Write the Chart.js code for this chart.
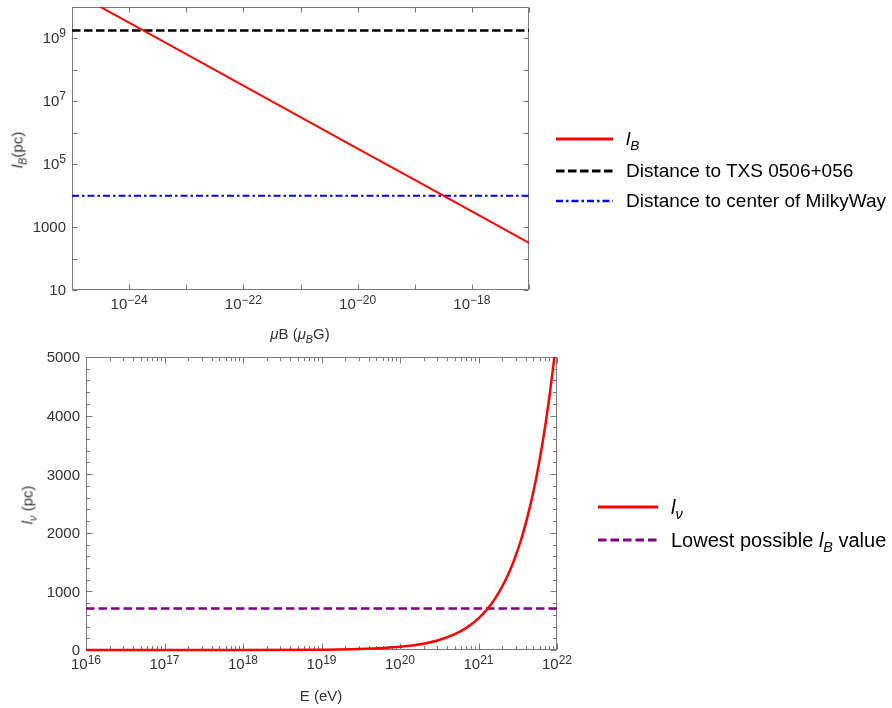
<!DOCTYPE html>
<html><head><meta charset="utf-8">
<script src="https://cdn.jsdelivr.net/npm/chart.js@4"></script>
<style>
html,body{margin:0;padding:0;background:#fff;}
body{width:892px;height:708px;position:relative;overflow:hidden;font-family:"Liberation Sans",Arial,sans-serif;}
canvas{position:absolute;}
.t{position:absolute;white-space:nowrap;color:#333;font-size:15px;line-height:1;}
.c{transform:translate(-50%,-50%);}
.r{transform:translate(-50%,-50%) rotate(-90deg);}
.sb{font-size:72%;position:relative;top:0.35em;}
.lg{position:absolute;white-space:nowrap;color:#000;font-size:19px;line-height:1;display:flex;align-items:center;}
.lg svg{margin-right:13px;}
.lg2{font-size:20px;}
</style></head>
<body>
<canvas id="c1" width="560" height="345" style="left:0;top:0"></canvas>
<canvas id="c2" width="600" height="363" style="left:0;top:345px"></canvas>

<div class="t r" style="left:17px;top:150px;"><i>l</i><span class="sb"><i>B</i></span>(pc)</div>
<div class="t c" style="left:300px;top:333px;"><i>μ</i>B (<i>μ</i><span class="sb"><i>B</i></span>G)</div>
<div class="t r" style="left:27px;top:505px;"><i>l</i><span class="sb"><i>ν</i></span> (pc)</div>
<div class="t c" style="left:321px;top:695px;">E (eV)</div>

<div class="lg" style="left:556px;top:129px;"><svg width="57" height="8"><line x1="0" y1="4" x2="57" y2="4" stroke="#ff0000" stroke-width="3"/></svg><span><i>l</i><span class="sb"><i>B</i></span></span></div>
<div class="lg" style="left:556px;top:161px;"><svg width="57" height="8"><line x1="0" y1="4" x2="57" y2="4" stroke="#000" stroke-width="3" stroke-dasharray="8.5,3.5"/></svg><span>Distance to TXS 0506+056</span></div>
<div class="lg" style="left:556px;top:191px;"><svg width="57" height="8"><line x1="0" y1="4" x2="57" y2="4" stroke="#0000ff" stroke-width="2.5" stroke-dasharray="7,3,2.5,3"/></svg><span>Distance to center of MilkyWay</span></div>

<div class="lg lg2" style="left:598px;top:497px;"><svg width="60" height="8"><line x1="0" y1="4" x2="60" y2="4" stroke="#ff0000" stroke-width="3"/></svg><span><i>l</i><span class="sb"><i>ν</i></span></span></div>
<div class="lg lg2" style="left:598px;top:530px;"><svg width="60" height="8"><line x1="0" y1="4" x2="60" y2="4" stroke="#800080" stroke-width="3" stroke-dasharray="8.5,4"/></svg><span>Lowest possible <i>l</i><span class="sb"><i>B</i></span> value</span></div>

<script>
// ---------- top panel data ----------
const muB = [1e-25, 1e-24, 1e-23, 1e-22, 1e-21, 1e-20, 1e-19, 1e-18, 1e-17];
const lB  = [3.16e10, 3.16e9, 3.16e8, 3.16e7, 3.16e6, 3.16e5, 3.16e4, 3.16e3, 316];
const txsDistance = 1.8e9;
const milkyWayDistance = 1.0e4;
const topXRange = [1e-25, 1e-17];
const topYRange = [10, 1e10];
const topXTicks = [1e-25, 1e-24, 1e-23, 1e-22, 1e-21, 1e-20, 1e-19, 1e-18, 1e-17];
const topXTickLabels = ['', '10^−24', '', '10^−22', '', '10^−20', '', '10^−18', ''];
const topYTicks = [10, 100, 1e3, 1e4, 1e5, 1e6, 1e7, 1e8, 1e9, 1e10];
const topYTickLabels = ['10', '', '1000', '', '10^5', '', '10^7', '', '10^9', ''];

// ---------- bottom panel data ----------
const energy = [1e16, 1e17, 1e18, 1e19, 3e19, 1e20, 2e20, 3e20, 5e20, 7e20, 1e21, 1.3e21, 1.6e21, 2e21, 2.5e21, 3e21, 3.5e21, 4e21, 5e21, 6e21, 7e21, 8e21, 9e21, 1e22];
const lNu    = [0.0054, 0.054, 0.54, 5.4, 16, 54, 108, 162, 270, 378, 540, 702, 864, 1080, 1350, 1620, 1890, 2160, 2700, 3240, 3780, 4320, 4860, 5400];
const lowestLB = 710;
const botXRange = [1e16, 1e22];
const botYRange = [0, 5000];
const botXMajorTicks = [1e16, 1e17, 1e18, 1e19, 1e20, 1e21, 1e22];
const botXTickLabels = ['10^16', '10^17', '10^18', '10^19', '10^20', '10^21', '10^22'];
const botXMinorMult = [2, 3, 4, 5, 6, 7, 8, 9];
const botYMajorTicks = [0, 1000, 2000, 3000, 4000, 5000];
const botYTickLabels = ['0', '1000', '2000', '3000', '4000', '5000'];
const botYMinorStep = 200;

// ---------- helpers ----------
const FAM = '"Liberation Sans", Arial, sans-serif';
const TXT = '#333333';
const FRAME = '#7a7a7a';

function drawLabel(ctx, text, x, y, align) {
  // y = baseline of the main text
  const parts = text.split('^');
  ctx.font = '15px ' + FAM;
  const wb = ctx.measureText(parts[0]).width;
  let we = 0;
  if (parts.length > 1) { ctx.font = '12px ' + FAM; we = ctx.measureText(parts[1]).width; }
  const tot = wb + we;
  let sx = align === 'center' ? x - tot / 2 : x - tot;
  ctx.textAlign = 'left';
  ctx.textBaseline = 'alphabetic';
  ctx.font = '15px ' + FAM;
  ctx.fillText(parts[0], sx, y);
  if (parts.length > 1) {
    ctx.font = '12px ' + FAM;
    ctx.fillText(parts[1], sx + wb, y - 5.5);
  }
}

function framePlugin(cfg) {
  return {
    id: 'frameTicks',
    beforeDatasetsDraw(chart) {
      const ctx = chart.ctx, a = chart.chartArea;
      const xs = chart.scales.x, ys = chart.scales.y;
      ctx.save();
      ctx.strokeStyle = FRAME;
      ctx.lineWidth = 1;
      ctx.beginPath();
      const L = Math.round(a.left) + 0.5, R = Math.round(a.right) - 0.5;
      const T = Math.round(a.top) + 0.5, B = Math.round(a.bottom) - 0.5;
      xs.ticks.forEach(t => {
        const p = Math.round(xs.getPixelForValue(t.value)) + 0.5;
        if (p < L - 1 || p > R + 1) return;
        const len = cfg.isMajX(t.value) ? cfg.maj : cfg.min;
        ctx.moveTo(p, B); ctx.lineTo(p, B - len);
        ctx.moveTo(p, T); ctx.lineTo(p, T + len);
      });
      ys.ticks.forEach(t => {
        const p = Math.round(ys.getPixelForValue(t.value)) + 0.5;
        if (p < T - 1 || p > B + 1) return;
        const len = cfg.isMajY(t.value) ? cfg.maj : cfg.min;
        ctx.moveTo(L, p); ctx.lineTo(L + len, p);
        ctx.moveTo(R, p); ctx.lineTo(R - len, p);
      });
      ctx.stroke();
      ctx.strokeRect(L, T, R - L, B - T);
      ctx.restore();
    },
    afterDraw(chart) {
      const ctx = chart.ctx, a = chart.chartArea;
      const xs = chart.scales.x, ys = chart.scales.y;
      ctx.save();
      ctx.fillStyle = TXT;
      cfg.xVals.forEach((v, i) => {
        if (!cfg.xLabels[i]) return;
        drawLabel(ctx, cfg.xLabels[i], xs.getPixelForValue(v), a.bottom + 19.3, 'center');
      });
      cfg.yVals.forEach((v, i) => {
        const s = cfg.yLabels[i];
        if (!s) return;
        const off = s.indexOf('^') >= 0 ? 4.3 : 5.3;
        drawLabel(ctx, s, a.left - cfg.yGap, ys.getPixelForValue(v) + off, 'right');
      });
      ctx.restore();
    }
  };
}
function pts(xs, ys) { return xs.map((x, i) => ({x: x, y: ys[i]})); }

// ---------- top chart ----------
new Chart(document.getElementById('c1'), {
  type: 'line',
  data: {
    datasets: [
      {label: 'lB', data: pts(muB, lB), borderColor: '#ff0000', borderWidth: 2, pointRadius: 0, tension: 0},
      {label: 'TXS', data: pts(topXRange, [txsDistance, txsDistance]), borderColor: '#000000', borderWidth: 2.5, borderDash: [8.5, 3.5], pointRadius: 0},
      {label: 'MW', data: pts(topXRange, [milkyWayDistance, milkyWayDistance]), borderColor: '#0000ff', borderWidth: 2, borderDash: [7, 3, 2.5, 3], pointRadius: 0}
    ]
  },
  options: {
    responsive: false, animation: false, devicePixelRatio: 1,
    layout: {padding: {left: 0, top: 7, right: 31, bottom: 25}},
    plugins: {legend: {display: false}, tooltip: {enabled: false}},
    scales: {
      x: {
        type: 'logarithmic', min: topXRange[0], max: topXRange[1],
        afterBuildTicks: s => { s.ticks = topXTicks.map(v => ({value: v})); },
        afterFit: s => { s.height = 30; },
        grid: {display: false, drawTicks: false}, border: {display: false},
        ticks: {display: false, autoSkip: false}
      },
      y: {
        type: 'logarithmic', min: topYRange[0], max: topYRange[1],
        afterBuildTicks: s => { s.ticks = topYTicks.map(v => ({value: v})); },
        afterFit: s => { s.width = 72; },
        grid: {display: false, drawTicks: false}, border: {display: false},
        ticks: {display: false, autoSkip: false}
      }
    }
  },
  plugins: [framePlugin({isMajX: () => true, isMajY: () => true, maj: 5, min: 5,
    xVals: topXTicks, xLabels: topXTickLabels, yVals: topYTicks, yLabels: topYTickLabels, yGap: 6})]
});

// ---------- bottom chart ----------
const botXTicks = [];
botXMajorTicks.forEach((d, i) => {
  botXTicks.push(d);
  if (i < botXMajorTicks.length - 1) botXMinorMult.forEach(m => botXTicks.push(d * m));
});
const botYTicks = [];
for (let v = botYRange[0]; v <= botYRange[1]; v += botYMinorStep) botYTicks.push(v);
const isDecade = v => Math.abs(Math.log10(v) - Math.round(Math.log10(v))) < 1e-9;

new Chart(document.getElementById('c2'), {
  type: 'line',
  data: {
    datasets: [
      {label: 'lnu', data: pts(energy, lNu), borderColor: '#ff0000', borderWidth: 2.5, pointRadius: 0, cubicInterpolationMode: 'monotone', clip: {left: 2, top: 0, right: 2, bottom: 3}},
      {label: 'lowest', data: pts(botXRange, [lowestLB, lowestLB]), borderColor: '#800080', borderWidth: 2.5, borderDash: [8.5, 4], pointRadius: 0}
    ]
  },
  options: {
    responsive: false, animation: false, devicePixelRatio: 1,
    layout: {padding: {left: 0, top: 12, right: 43, bottom: 28}},
    plugins: {legend: {display: false}, tooltip: {enabled: false}},
    scales: {
      x: {
        type: 'logarithmic', min: botXRange[0], max: botXRange[1],
        afterBuildTicks: s => { s.ticks = botXTicks.map(v => ({value: v})); },
        afterFit: s => { s.height = 30; },
        grid: {display: false, drawTicks: false}, border: {display: false},
        ticks: {display: false, autoSkip: false}
      },
      y: {
        type: 'linear', min: botYRange[0], max: botYRange[1],
        afterBuildTicks: s => { s.ticks = botYTicks.map(v => ({value: v})); },
        afterFit: s => { s.width = 86; },
        grid: {display: false, drawTicks: false}, border: {display: false},
        ticks: {display: false, autoSkip: false}
      }
    }
  },
  plugins: [framePlugin({isMajX: isDecade, isMajY: v => v % 1000 === 0, maj: 6, min: 3.5,
    xVals: botXMajorTicks, xLabels: botXTickLabels, yVals: botYMajorTicks, yLabels: botYTickLabels, yGap: 6})]
});
</script>
</body></html>
